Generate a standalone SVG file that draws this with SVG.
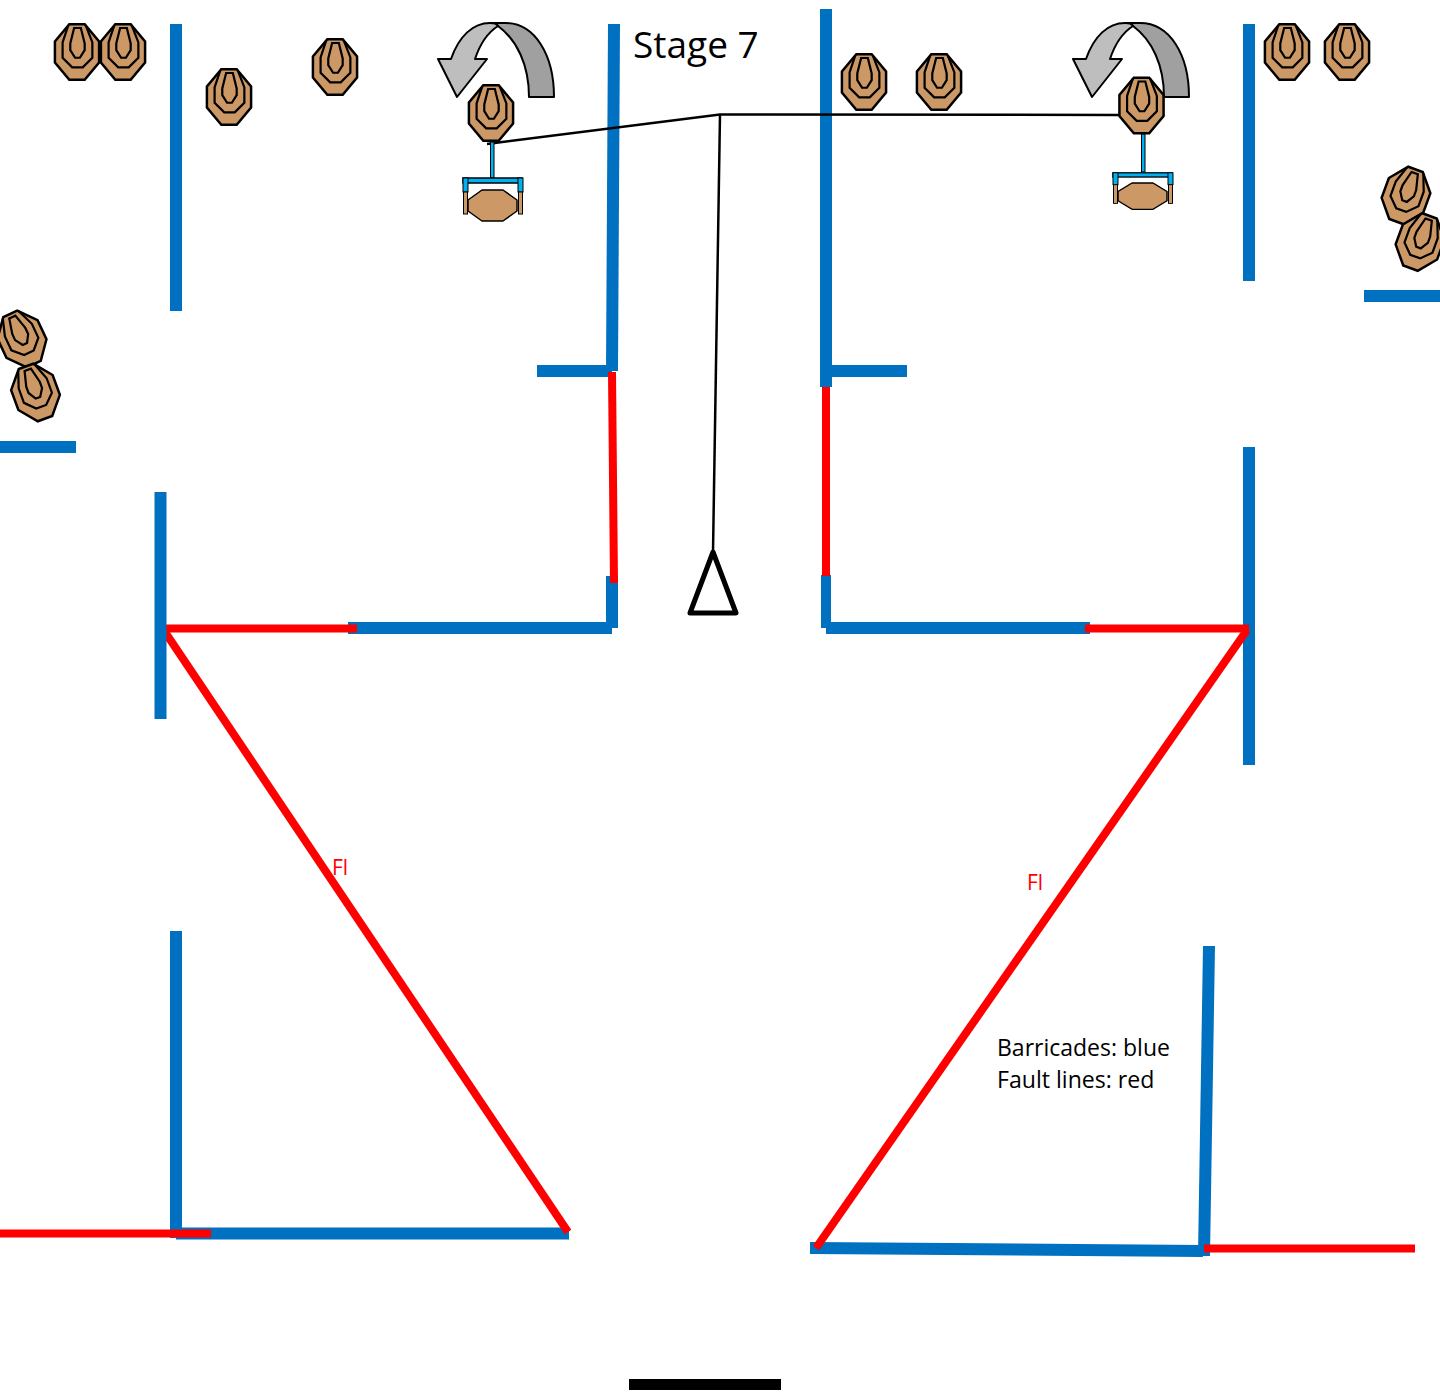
<svg xmlns="http://www.w3.org/2000/svg" width="1440" height="1392" viewBox="0 0 1440 1392">
<style>
.b{stroke:#0070C0;stroke-width:12;fill:none}
.r{stroke:#FF0000;stroke-width:8;fill:none}
.k{stroke:#000;stroke-width:2.5;fill:none}
.o{fill:#CC9966;stroke:#000;stroke-width:2.6}
.i{fill:none;stroke:#000;stroke-width:2.3}
.t{font-family:"Open Sans",sans-serif}
</style>
<defs>
<g id="target" transform="scale(.96)">
<path class="o" d="M-8,-29L8,-29L23,-11L23,11L8,29L-8,29L-23,11L-23,-11Z"/>
<path class="i" d="M-9,-28L-15,-10L-15,6L-5,16L6,16L16,6L16,-10L9,-28"/>
<path class="i" d="M-3,-25L4,-25L8,-9L8,-2L3,6L-2,6L-7,-2L-7,-9Z"/>
</g>
<g id="stand">
<rect x="463" y="178" width="59" height="5" fill="#00B0F0" stroke="#000" stroke-width="1.500"/>
<rect x="463" y="178" width="5" height="14" fill="#00B0F0" stroke="#000" stroke-width="1"/>
<rect x="518" y="178" width="5" height="14" fill="#00B0F0" stroke="#000" stroke-width="1"/>
<rect x="463.500" y="192" width="4" height="22" fill="#CC9966" stroke="#000" stroke-width="1"/>
<rect x="518.500" y="192" width="4" height="22" fill="#CC9966" stroke="#000" stroke-width="1"/>
<path d="M482,190L503,190L517,200L517,211L503,221L482,221L468,211L468,200Z" fill="#CC9966" stroke="#000" stroke-width="1.500" stroke-linejoin="round"/>
</g>
<g id="turn">
<path d="M498,26C497,24 494,23 490,23L505,23C535,23 554,55 554,97L529,97C529,65 517,40 498,26Z" fill="#A0A0A0" stroke="#000" stroke-width="2" stroke-linejoin="round"/>
<path d="M457,97L438,59L451,59C459,36 473,23 490,23C494,23 497,24 498,26C487,33 480,44 475,59L487,59Z" fill="#BEBEBE" stroke="#000" stroke-width="2" stroke-linejoin="round"/>
</g>
</defs>
<g id="connectors">
<path class="b" d="M176,24V311"/>
<path class="b" d="M614,24L612,371"/>
<path class="b" d="M537,371H612"/>
<path class="b" d="M826,9V387"/>
<path class="b" d="M830,371H907"/>
<path class="b" d="M1249,24V281"/>
<path class="b" d="M1364,296H1440"/>
<path class="b" d="M0,447H76"/>
<path class="b" d="M1249,447V765"/>
<path class="b" d="M612,576V628"/>
<path class="b" d="M348,628H612"/>
<path class="b" d="M826,575V628" style="stroke-width:10"/>
<path class="b" d="M826,628H1090"/>
<path class="b" d="M176,931V1238"/>
<path class="b" d="M176,1233.500H569"/>
<path class="b" d="M1209,946L1204,1256"/>
<path class="b" d="M810,1248L1203,1251"/>
<path class="r" d="M612,372L614,583"/>
<path class="r" d="M826,387V576"/>
<path class="r" d="M166,628.500H357"/>
<path class="r" d="M1085,628.500H1249"/>
<path class="r" d="M165,632L568,1232"/>
<path class="r" d="M1247,630L816,1248"/>
<path class="r" d="M0,1233.500H211"/>
<path class="r" d="M1204,1248.500H1415"/>
<path class="b" d="M160.500,492V719"/>
<path class="k" d="M487,144L720,114.500L1119,115"/>
<path class="k" d="M720,114.500L713,552"/>
<path d="M629,1384.500H781" stroke="#000" stroke-width="11" fill="none"/>
</g>
<g id="targets">
<use href="#target" x="77" y="52"/>
<use href="#target" x="123" y="52"/>
<use href="#target" x="229" y="97"/>
<use href="#target" x="335" y="67"/>
<use href="#target" x="864" y="82"/>
<use href="#target" x="939" y="82"/>
<use href="#target" x="1287" y="52"/>
<use href="#target" x="1347" y="52"/>
<use href="#target" transform="translate(1406,195.500) rotate(20)"/>
<use href="#target" transform="translate(1420,242) rotate(20)"/>
<use href="#target" transform="translate(22,339) rotate(-25)"/>
<use href="#target" transform="translate(35.500,392.500) rotate(-20)"/>
</g>
<g id="turner-left">
<use href="#turn"/>
<rect x="490.500" y="142" width="3.500" height="36" fill="#00B0F0" stroke="#000" stroke-width="1"/>
<use href="#stand"/>
<use href="#target" x="491" y="113"/>
</g>
<g id="turner-right">
<use href="#turn" x="635"/>
<rect x="1141.500" y="134" width="3.500" height="38" fill="#00B0F0" stroke="#000" stroke-width="1"/>
<use href="#stand" transform="translate(650,21.500) scale(1,.85)"/>
<use href="#target" x="1141.500" y="105.500"/>
</g>
<g id="start">
<path d="M713,552L736,613H690Z" fill="#fff" stroke="#000" stroke-width="5" stroke-linejoin="round"/>
</g>
<g id="labels">
<text class="t" x="633" y="58" font-size="37">Stage 7</text>
<text class="t" x="332" y="875" font-size="21" fill="#FF0000">Fl</text>
<text class="t" x="1027" y="890" font-size="21" fill="#FF0000">Fl</text>
<text class="t" x="997" y="1056" font-size="23">Barricades: blue</text>
<text class="t" x="997" y="1088" font-size="23.100">Fault lines: red</text>
</g>
</svg>
